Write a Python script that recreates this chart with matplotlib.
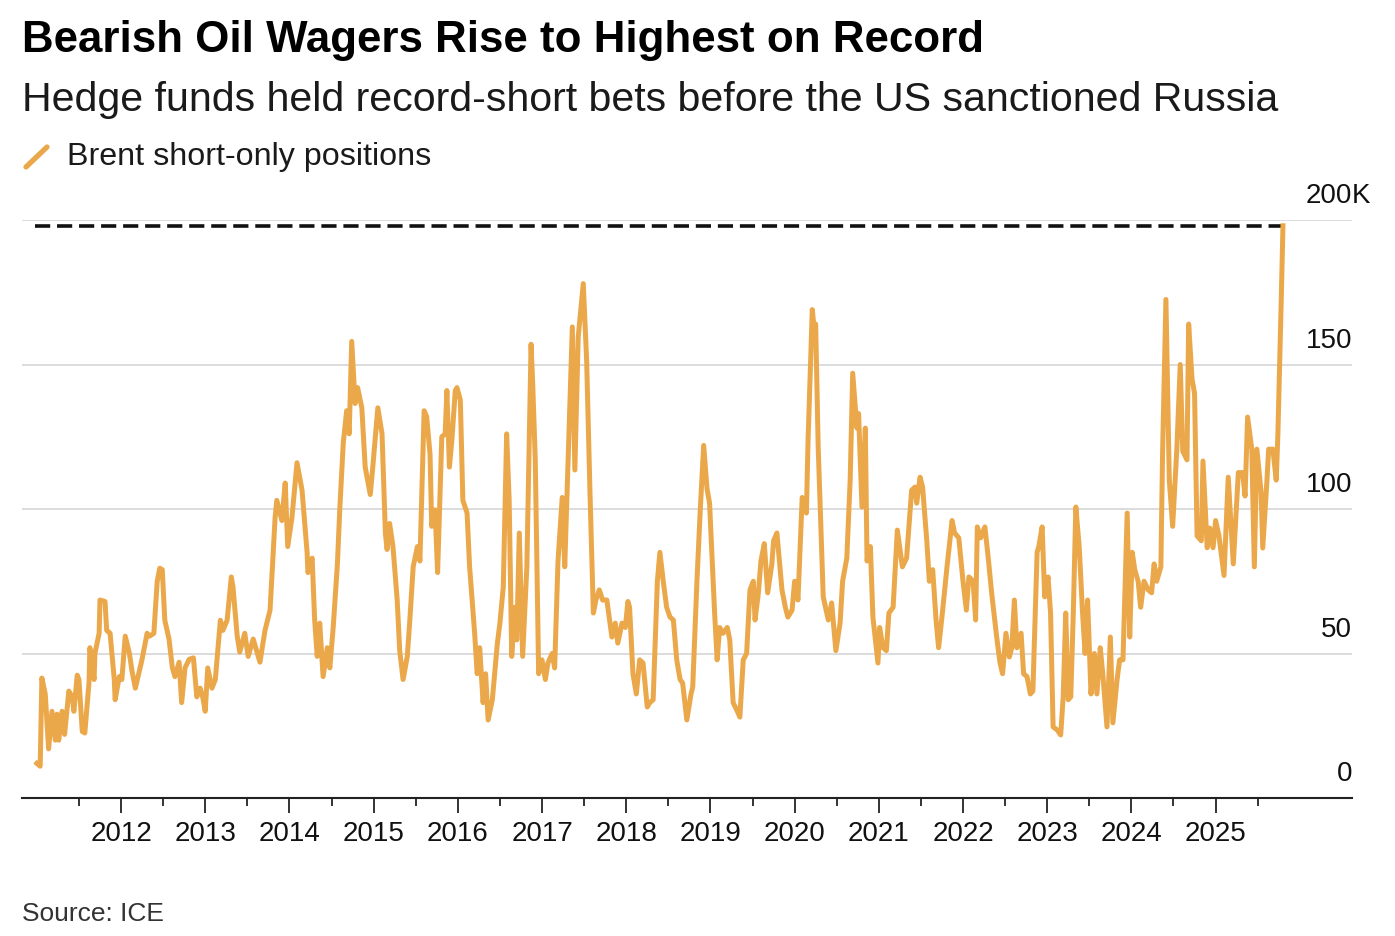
import matplotlib
matplotlib.use("Agg")
import matplotlib.pyplot as plt
from matplotlib.lines import Line2D

plt.rcParams['font.family'] = ['Liberation Sans', 'DejaVu Sans']

# ---- data (Brent short-only positions, thousands of contracts) ----
dates = [
    2011.00, 2011.04, 2011.06, 2011.10, 2011.14, 2011.18, 2011.22, 2011.24, 2011.26, 2011.30,
    2011.33, 2011.38, 2011.42, 2011.44, 2011.48, 2011.50, 2011.54, 2011.57, 2011.62, 2011.63,
    2011.68, 2011.69, 2011.74, 2011.75, 2011.81, 2011.83, 2011.87, 2011.92, 2011.93, 2011.98,
    2012.01, 2012.05, 2012.10, 2012.13, 2012.17, 2012.21, 2012.25, 2012.31, 2012.34, 2012.39,
    2012.43, 2012.46, 2012.49, 2012.52, 2012.57, 2012.61, 2012.64, 2012.69, 2012.72, 2012.76,
    2012.81, 2012.86, 2012.90, 2012.94, 2012.97, 2013.00, 2013.03, 2013.08, 2013.12, 2013.18,
    2013.21, 2013.26, 2013.31, 2013.33, 2013.38, 2013.41, 2013.47, 2013.51, 2013.57, 2013.62,
    2013.65, 2013.71, 2013.77, 2013.83, 2013.85, 2013.91, 2013.95, 2013.98, 2014.03, 2014.09,
    2014.15, 2014.21, 2014.22, 2014.27, 2014.30, 2014.33, 2014.36, 2014.40, 2014.45, 2014.48,
    2014.52, 2014.57, 2014.60, 2014.64, 2014.68, 2014.71, 2014.74, 2014.78, 2014.81, 2014.86,
    2014.90, 2014.96, 2014.99, 2015.05, 2015.10, 2015.14, 2015.16, 2015.19, 2015.23, 2015.28,
    2015.31, 2015.35, 2015.40, 2015.43, 2015.47, 2015.52, 2015.55, 2015.60, 2015.63, 2015.67,
    2015.69, 2015.73, 2015.76, 2015.81, 2015.85, 2015.87, 2015.90, 2015.93, 2015.97, 2015.99,
    2016.03, 2016.06, 2016.11, 2016.14, 2016.20, 2016.23, 2016.26, 2016.30, 2016.33, 2016.36,
    2016.41, 2016.47, 2016.50, 2016.54, 2016.58, 2016.61, 2016.64, 2016.68, 2016.70, 2016.73,
    2016.77, 2016.82, 2016.87, 2016.89, 2016.92, 2016.94, 2016.96, 2017.00, 2017.04, 2017.07,
    2017.12, 2017.15, 2017.19, 2017.24, 2017.27, 2017.31, 2017.36, 2017.39, 2017.43, 2017.49,
    2017.53, 2017.57, 2017.61, 2017.64, 2017.68, 2017.72, 2017.77, 2017.83, 2017.87, 2017.90,
    2017.95, 2017.99, 2018.02, 2018.04, 2018.08, 2018.12, 2018.16, 2018.20, 2018.25, 2018.28,
    2018.32, 2018.37, 2018.40, 2018.44, 2018.48, 2018.52, 2018.56, 2018.60, 2018.64, 2018.67,
    2018.72, 2018.77, 2018.79, 2018.84, 2018.88, 2018.92, 2018.96, 2018.99, 2019.05, 2019.08,
    2019.11, 2019.15, 2019.20, 2019.23, 2019.27, 2019.32, 2019.35, 2019.39, 2019.43, 2019.47,
    2019.51, 2019.53, 2019.57, 2019.60, 2019.64, 2019.68, 2019.73, 2019.75, 2019.79, 2019.85,
    2019.89, 2019.92, 2019.97, 2020.00, 2020.04, 2020.09, 2020.14, 2020.16, 2020.21, 2020.23,
    2020.25, 2020.28, 2020.34, 2020.40, 2020.44, 2020.49, 2020.54, 2020.57, 2020.62, 2020.66,
    2020.69, 2020.74, 2020.76, 2020.80, 2020.84, 2020.86, 2020.90, 2020.93, 2020.99, 2021.01,
    2021.05, 2021.09, 2021.12, 2021.17, 2021.22, 2021.28, 2021.33, 2021.39, 2021.43, 2021.45,
    2021.49, 2021.52, 2021.57, 2021.60, 2021.64, 2021.68, 2021.71, 2021.75, 2021.81, 2021.87,
    2021.90, 2021.95, 2022.00, 2022.04, 2022.07, 2022.12, 2022.15, 2022.17, 2022.21, 2022.26,
    2022.30, 2022.34, 2022.40, 2022.44, 2022.47, 2022.51, 2022.55, 2022.58, 2022.61, 2022.64,
    2022.69, 2022.72, 2022.76, 2022.80, 2022.83, 2022.88, 2022.90, 2022.94, 2022.97, 2023.01,
    2023.04, 2023.07, 2023.12, 2023.16, 2023.19, 2023.22, 2023.25, 2023.28, 2023.31, 2023.34,
    2023.38, 2023.42, 2023.45, 2023.48, 2023.52, 2023.56, 2023.59, 2023.63, 2023.66, 2023.71,
    2023.75, 2023.78, 2023.83, 2023.86, 2023.90, 2023.95, 2023.98, 2024.01, 2024.04, 2024.08,
    2024.11, 2024.15, 2024.20, 2024.24, 2024.27, 2024.30, 2024.35, 2024.37, 2024.41, 2024.45,
    2024.49, 2024.54, 2024.58, 2024.61, 2024.66, 2024.68, 2024.72, 2024.75, 2024.78, 2024.83,
    2024.85, 2024.90, 2024.93, 2024.97, 2025.00, 2025.04, 2025.10, 2025.15, 2025.21, 2025.27,
    2025.32, 2025.35, 2025.38, 2025.43, 2025.46, 2025.49, 2025.54, 2025.56, 2025.61, 2025.63,
    2025.68, 2025.72, 2025.74, 2025.78, 2025.80,
]

shorts = [
    12, 11, 41.5, 36, 17, 30, 20, 29, 20, 30,
    22, 37, 35, 30, 42.5, 41, 23, 22.5, 40, 52,
    41, 50, 57, 68.5, 68, 58, 57, 41, 34, 42,
    41, 56, 50, 44, 38, 43, 48, 57, 56, 57,
    75, 79.5, 79, 61.5, 55, 45, 42, 47, 33, 45,
    48, 48.5, 35, 38, 35, 30, 45, 38, 41, 61.5,
    58, 61.5, 76.5, 73, 56, 50.5, 57, 49, 55, 50,
    47, 58, 65, 97, 103, 96, 109, 87, 97, 116,
    106.5, 85, 78, 83, 61.5, 49, 60.5, 42, 52, 45,
    59, 81, 101, 123, 134, 126, 158, 136.5, 142, 135,
    114.5, 105, 114.5, 135, 126, 91.5, 86, 95, 87, 68.5,
    51, 41, 49, 61.5, 80, 87, 82, 134, 132, 119,
    94, 99.7, 78, 125, 126, 141, 114.5, 124, 141, 142,
    137.7, 103, 98.6, 80, 57, 43, 52, 33, 43, 27,
    34, 53.6, 60.5, 73, 126, 103, 49, 66, 54.7, 91.7,
    49, 80, 157, 143, 117, 80, 43, 47.8, 41, 46.7,
    50, 45, 82, 104, 80, 117, 163, 113.5, 159.5, 178,
    151.5, 105.5, 64, 68.5, 72, 68.5, 68.5, 55.7, 60.5, 53.6,
    60.5, 59, 68, 66, 43, 36, 47.8, 46.7, 31.5, 33,
    34, 75, 85, 75, 66, 62.6, 61.6, 47.8, 41, 39.8,
    27, 36, 38.4, 75, 100, 122, 107, 102, 64, 47.8,
    59, 57, 59, 54.7, 33, 30, 28, 47.8, 50, 72,
    75, 61.6, 71, 82, 88, 71, 81, 89, 91.7, 72,
    66, 62.6, 65, 75, 68.5, 104, 98.6, 124, 169, 163,
    164, 121.5, 69.6, 61.6, 67.5, 51, 60.5, 75, 83, 110,
    147, 128, 133, 100.7, 128, 82, 87, 62.6, 46.7, 59,
    52, 51, 64, 66, 92.7, 80, 83, 106.5, 107.6, 102,
    111, 107.6, 89, 75, 79, 61.6, 52, 62.6, 80, 96,
    91.7, 90, 75, 65, 76.5, 75, 61.6, 93.8, 90, 93.8,
    83, 71, 55.7, 46.7, 43, 57, 48.8, 52, 68.5, 52,
    57, 43, 42, 36, 37, 85, 87, 93.8, 69.6, 76.5,
    64, 24.6, 23.5, 21.8, 35, 64, 34, 35, 64, 100.7,
    87, 64, 50, 68.5, 36, 50, 36, 52, 43, 24.6,
    55.7, 26, 41, 47.8, 47.8, 98.6, 55.7, 85, 79, 75,
    66, 75, 72, 71, 81, 75, 80, 119, 172.5, 110,
    94, 121, 150, 120, 117, 164, 145, 140, 90.7, 89,
    116.6, 86.6, 93.4, 86.6, 96, 90.7, 77, 111, 81, 112.6,
    112.6, 104.5, 131.8, 120.7, 80, 120.7, 106, 86.5, 110, 120.7,
    120.7, 110, 126, 172.8, 198,
]

year_ticks = list(range(2012, 2026))
half_year_ticks = [y + 0.5 for y in range(2011, 2026)]
grid_levels = [50, 100, 150, 200]
y_labels = ["0", "50", "100", "150", "200"]
y_label_vals = [0, 50, 100, 150, 200]

title = "Bearish Oil Wagers Rise to Highest on Record"
subtitle = "Hedge funds held record-short bets before the US sanctioned Russia"
legend_label = "Brent short-only positions"
source = "Source: ICE"

ORANGE = "#EBA84B"
W, H = 1395, 936

fig = plt.figure(figsize=(W / 100, H / 100), dpi=100)
fig.patch.set_facecolor("white")
ax = fig.add_axes([22 / W, 1 - 798 / H, (1352 - 22) / W, (798 - 220) / H])

ax.set_xlim(2010.824, 2026.62)
ax.set_ylim(0, 200)

# gridlines
for g in grid_levels:
    ax.axhline(g, color="#d9d9d9", lw=1.3, zorder=1)

# record dashed line
record = max(shorts)
ax.plot([dates[0] - 0.02, dates[-1]], [record, record], color="#111111", lw=2.6,
        dashes=(4.2, 1.9), zorder=2, solid_capstyle="butt")

ax.plot(dates, shorts, color=ORANGE, lw=3.6, zorder=3, solid_joinstyle="round")

for s in ["top", "left", "right"]:
    ax.spines[s].set_visible(False)
ax.spines["bottom"].set_color("#222222")
ax.spines["bottom"].set_linewidth(1.5)

ax.set_yticks([])
ax.set_xticks(year_ticks)
ax.set_xticklabels([str(y) for y in year_ticks], fontsize=20, color="#111111")
ax.set_xticks(half_year_ticks, minor=True)
ax.tick_params(axis="x", which="major", length=11, width=1.4, color="#333333", pad=5.5)
ax.tick_params(axis="x", which="minor", length=6, width=1.4, color="#333333")

# y labels on the right, above gridlines
for lab, v in zip(y_labels, y_label_vals):
    ax.annotate(lab, xy=(1.0, v), xycoords=("axes fraction", "data"),
                xytext=(0, 12), textcoords="offset points",
                ha="right", va="baseline", fontsize=20, color="#111111")
ax.annotate("K", xy=(1.0, 200), xycoords=("axes fraction", "data"),
            xytext=(0, 12), textcoords="offset points",
            ha="left", va="baseline", fontsize=20, color="#111111")

# titles
fig.text(22 / W, 1 - 52 / H, title, fontsize=31.6, fontweight="bold",
         ha="left", va="baseline", color="#000000")
fig.text(22 / W, 1 - 111 / H, subtitle, fontsize=29.6,
         ha="left", va="baseline", color="#1a1a1a")

# legend
fig.add_artist(Line2D([26 / W, 47 / W], [1 - 167 / H, 1 - 147 / H],
                      color=ORANGE, lw=3.8, solid_capstyle="round"))
fig.text(67 / W, 1 - 165 / H, legend_label, fontsize=23.2,
         ha="left", va="baseline", color="#1a1a1a")

fig.text(22 / W, 1 - 921 / H, source, fontsize=19,
         ha="left", va="baseline", color="#333333")

fig.savefig("out.png", dpi=100, facecolor="white")
